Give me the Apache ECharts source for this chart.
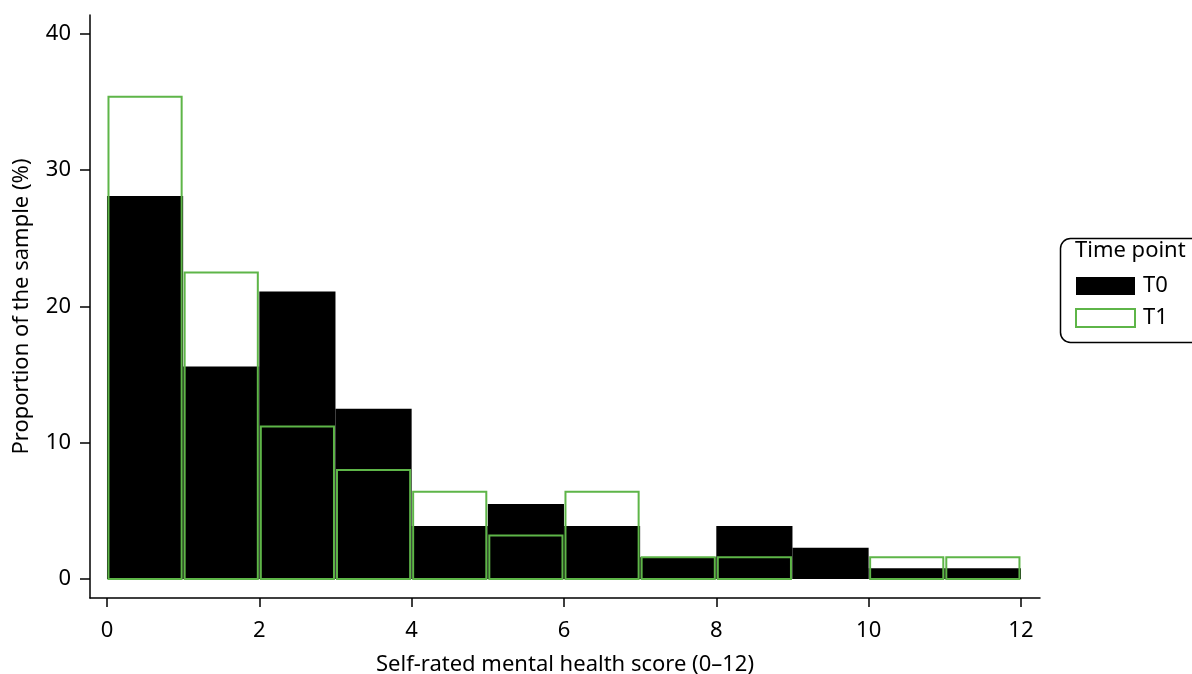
<!DOCTYPE html>
<html>
<head>
<meta charset="utf-8">
<script src="https://cdn.jsdelivr.net/npm/echarts@6/dist/echarts.min.js"></script>
<style>html,body{margin:0;padding:0;background:#fff;}#c{width:1192px;height:674px;}</style>
</head>
<body>
<div id="c"></div>
<script>
// Histogram bins (score 0-12, width 1)
const binStarts = [0, 1, 2, 3, 4, 5, 6, 7, 8, 9, 10, 11];
const binEnds   = [1, 2, 3, 4, 5, 6, 7, 8, 9, 10, 11, 12];
// Proportion of the sample (%) per bin
const t0Values = [28.1, 15.6, 21.1, 12.5, 3.9, 5.5, 3.9, 1.6, 3.9, 2.3, 0.8, 0.8];
const t1Values = [35.4, 22.5, 11.2, 8.0, 6.4, 3.2, 6.4, 1.6, 1.6, 0, 1.6, 1.6];
const xTicks = [0, 2, 4, 6, 8, 10, 12];
const yTicks = [0, 10, 20, 30, 40];

const GREEN = '#5eb548';
const FONT = '"Noto Sans", "Open Sans", sans-serif';
const FS = 22;

function toData(vals) {
  return binStarts.map((s, i) => [s, binEnds[i], vals[i]]);
}

function renderT0(params, api) {
  const p0 = api.coord([api.value(0), api.value(2)]);
  const p1 = api.coord([api.value(1), 0]);
  return {
    type: 'rect',
    shape: { x: p0[0], y: p0[1], width: p1[0] - p0[0], height: p1[1] - p0[1] },
    style: { fill: '#000' }
  };
}
function renderT1(params, api) {
  if (api.value(2) <= 0) return null;
  const p0 = api.coord([api.value(0), api.value(2)]);
  const p1 = api.coord([api.value(1), 0]);
  return {
    type: 'rect',
    shape: { x: p0[0] + 1.5, y: p0[1], width: p1[0] - p0[0] - 3, height: p1[1] - p0[1] },
    style: { fill: 'none', stroke: GREEN, lineWidth: 2 }
  };
}

const chart = echarts.init(document.getElementById('c'), null, { renderer: 'canvas' });
chart.setOption({
  animation: false,
  backgroundColor: '#fff',
  textStyle: { fontFamily: FONT, color: '#000' },
  grid: { left: 90, right: 152, top: 15, bottom: 76, containLabel: false, outerBoundsMode: 'none' },
  xAxis: {
    type: 'value',
    min: -0.223, max: 12.25,
    name: 'Self-rated mental health score (0\u201312)',
    nameLocation: 'middle', nameGap: 56,
    nameTextStyle: { fontSize: FS, color: '#000', fontFamily: FONT },
    axisLine: { show: true, onZero: false, lineStyle: { color: '#000', width: 1.5 } },
    axisTick: { show: true, length: 9, lineStyle: { color: '#000', width: 1.5 }, customValues: xTicks },
    axisLabel: { fontSize: FS, color: '#000', margin: 22, fontFamily: FONT, customValues: xTicks },
    splitLine: { show: false }
  },
  yAxis: {
    type: 'value',
    min: -1.39, max: 41.39,
    name: 'Proportion of the sample (%)',
    nameLocation: 'middle', nameGap: 57,
    nameTextStyle: { fontSize: FS, color: '#000', fontFamily: FONT },
    axisLine: { show: true, onZero: false, lineStyle: { color: '#000', width: 1.5 } },
    axisTick: { show: true, length: 10, lineStyle: { color: '#000', width: 1.5 }, customValues: yTicks },
    axisLabel: { fontSize: FS, color: '#000', margin: 19, fontFamily: FONT, customValues: yTicks },
    splitLine: { show: false }
  },
  legend: {
    orient: 'vertical',
    left: 1075, top: 275,
    padding: 0,
    itemWidth: 59, itemHeight: 18, itemGap: 10,
    textStyle: { fontSize: FS, color: '#000', fontFamily: FONT, padding: [0, 0, 0, 3] },
    data: [
      { name: 'T0', icon: 'rect', itemStyle: { color: '#000', borderWidth: 0 } },
      { name: 'T1', icon: 'rect', itemStyle: { color: '#fff', borderColor: GREEN, borderWidth: 2 } }
    ]
  },
  graphic: [
    { type: 'rect', left: 1058, top: 236, shape: { width: 160, height: 104, r: 10 },
      style: { fill: 'none', stroke: '#000', lineWidth: 1.5 }, z: 100 },
    { type: 'text', left: 1075, top: 240, style: { text: 'Time point', fontSize: FS, fontFamily: FONT, fill: '#000' }, z: 100 }
  ],
  series: [
    { name: 'T0', type: 'custom', renderItem: renderT0, data: toData(t0Values),
      encode: { x: [0, 1], y: 2 }, itemStyle: { color: '#000' }, clip: false },
    { name: 'T1', type: 'custom', renderItem: renderT1, data: toData(t1Values),
      encode: { x: [0, 1], y: 2 }, itemStyle: { color: GREEN }, clip: false, z: 3 }
  ]
});
</script>
</body>
</html>
